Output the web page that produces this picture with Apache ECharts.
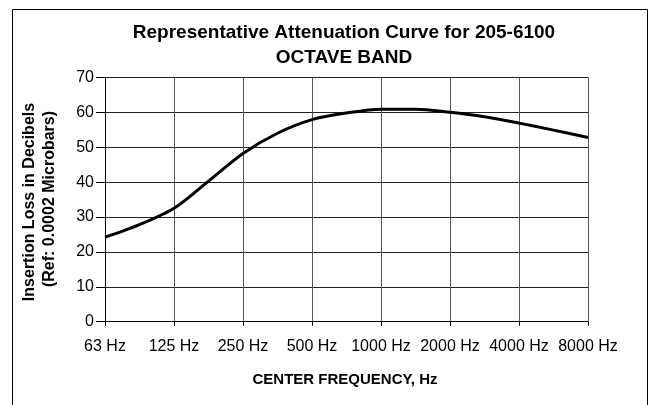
<!DOCTYPE html>
<html>
<head>
<meta charset="utf-8">
<script src="https://cdn.jsdelivr.net/npm/echarts@6/dist/echarts.min.js"></script>
<style>
html,body{margin:0;padding:0;background:#fff;}
#chart{width:654px;height:405px;}
</style>
</head>
<body>
<div id="chart"></div>
<script>
// Data
const freqLabels = ['63 Hz','125 Hz','250 Hz','500 Hz','1000 Hz','2000 Hz','4000 Hz','8000 Hz'];
// positions in octave steps from 63 Hz (0 = 63 Hz, 7 = 8000 Hz)
const curvePos = [0, 0.5, 1, 1.5, 2, 2.5, 3, 3.5, 4, 4.5, 5, 5.5, 6, 6.5, 7];
const lossValues = [24.2, 27.8, 32.5, 40.3, 48.2, 54.0, 57.9, 59.8, 60.9, 60.9, 60.0, 58.7, 56.9, 54.9, 52.8];
const yTicks = [0, 10, 20, 30, 40, 50, 60, 70];

const titleText = 'Representative Attenuation Curve for 205-6100\nOCTAVE BAND';
const yTitle1 = 'Insertion Loss in Decibels';
const yTitle2 = '(Ref: 0.0002 Microbars)';
const xTitle = 'CENTER FREQUENCY, Hz';

const seriesData = curvePos.map((p, i) => [p, lossValues[i]]);

const chart = echarts.init(document.getElementById('chart'), null, {renderer: 'canvas'});
const FONT = 'Liberation Sans, Arial, sans-serif';
chart.setOption({
  backgroundColor: '#ffffff',
  animation: false,
  title: {
    text: titleText,
    left: 339,
    top: 15,
    textAlign: 'center',
    textStyle: {fontFamily: FONT, fontWeight: 'bold', fontSize: 19, lineHeight: 25, color: '#000'}
  },
  grid: {left: 105, right: 66, top: 77.4, bottom: 83.3, containLabel: false},
  xAxis: {
    type: 'value',
    min: 0, max: freqLabels.length - 1, interval: 1,
    axisLine: {show: true, lineStyle: {color: '#000', width: 1}},
    axisTick: {show: true, length: 4, inside: false, lineStyle: {color: '#000'}},
    axisLabel: {
      fontFamily: FONT, fontSize: 16, color: '#000', margin: 17,
      formatter: v => freqLabels[Math.round(v)] || ''
    },
    splitLine: {show: true, lineStyle: {color: '#555', width: 1}}
  },
  yAxis: {
    type: 'value',
    min: yTicks[0], max: yTicks[yTicks.length - 1], interval: 10,
    axisLine: {show: true, lineStyle: {color: '#000', width: 1}},
    axisTick: {show: true, length: 9, lineStyle: {color: '#000'}},
    axisLabel: {fontFamily: FONT, fontSize: 16, color: '#000', margin: 11},
    splitLine: {show: true, lineStyle: {color: '#222', width: 1}}
  },
  series: [{
    type: 'line',
    data: seriesData,
    smooth: 0.3,
    symbol: 'none',
    lineStyle: {color: '#000', width: 3},
    z: 5
  }],
  graphic: [
    {type: 'rect', shape: {x: 12.5, y: 9.5, width: 635, height: 400}, style: {fill: 'none', stroke: '#000', lineWidth: 1}, silent: true, z: -1},
    {type: 'text', x: 30, y: 202, rotation: Math.PI / 2,
      style: {text: yTitle1, font: 'bold 16px ' + FONT, fill: '#000', textAlign: 'center', textVerticalAlign: 'middle'}},
    {type: 'text', x: 50, y: 199, rotation: Math.PI / 2,
      style: {text: yTitle2, font: 'bold 16px ' + FONT, fill: '#000', textAlign: 'center', textVerticalAlign: 'middle'}},
    {type: 'text', x: 345, y: 380,
      style: {text: xTitle, font: 'bold 15px ' + FONT, fill: '#000', textAlign: 'center', textVerticalAlign: 'middle'}}
  ]
});
</script>
</body>
</html>
